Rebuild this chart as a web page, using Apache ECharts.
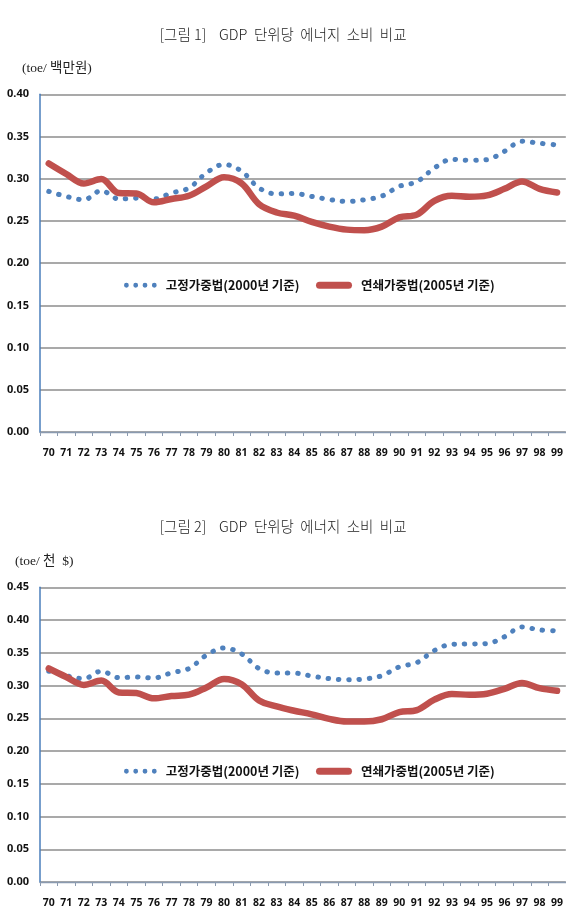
<!DOCTYPE html>
<html>
<head>
<meta charset="utf-8">
<script src="https://cdn.jsdelivr.net/npm/echarts@6/dist/echarts.min.js"></script>
<style>
html,body{margin:0;padding:0;background:#fff;}
#c{width:566px;height:909px;}
</style>
</head>
<body>
<div id="c"></div>
<script>
const years = ['70','71','72','73','74','75','76','77','78','79','80','81','82','83','84','85','86','87','88','89','90','91','92','93','94','95','96','97','98','99'];

// 그림 1 (toe/백만원)
const fixed1 = [0.285,0.279,0.275,0.286,0.276,0.277,0.276,0.283,0.289,0.307,0.317,0.309,0.289,0.282,0.2825,0.279,0.2754,0.273,0.275,0.2794,0.291,0.2964,0.3127,0.323,0.3218,0.3226,0.3325,0.3444,0.342,0.340];
const chain1 = [0.318,0.3056,0.2944,0.2996,0.283,0.2825,0.272,0.276,0.2798,0.291,0.3016,0.2944,0.2698,0.260,0.2562,0.2488,0.2433,0.2397,0.239,0.2433,0.2543,0.2575,0.2738,0.2798,0.2786,0.2802,0.288,0.2968,0.288,0.2837];

// 그림 2 (toe/천 $)
const fixed2 = [0.322,0.315,0.3105,0.322,0.312,0.313,0.3115,0.3195,0.326,0.3465,0.3575,0.3485,0.326,0.319,0.319,0.3145,0.3105,0.309,0.310,0.315,0.3285,0.335,0.3535,0.363,0.3635,0.364,0.3745,0.3895,0.385,0.3835];
const chain2 = [0.326,0.313,0.301,0.3075,0.2895,0.2885,0.2805,0.284,0.286,0.297,0.310,0.302,0.277,0.268,0.2615,0.256,0.249,0.245,0.245,0.2485,0.2595,0.2625,0.2785,0.287,0.286,0.2875,0.295,0.304,0.296,0.292];

const yTicks1 = {min:0, max:0.40, interval:0.05};
const yTicks2 = {min:0, max:0.45, interval:0.05};

const nameFixed = '고정가중법(2000년 기준)';
const nameChain = '연쇄가중법(2005년 기준)';

const blueC = '#4f81bd', redC = '#c0504d';
const dotsIcon = 'path://M0,2.4a2.4,2.4 0 1,0 4.8,0a2.4,2.4 0 1,0 -4.8,0Z M9.3,2.4a2.4,2.4 0 1,0 4.8,0a2.4,2.4 0 1,0 -4.8,0Z M18.6,2.4a2.4,2.4 0 1,0 4.8,0a2.4,2.4 0 1,0 -4.8,0Z M27.9,2.4a2.4,2.4 0 1,0 4.8,0a2.4,2.4 0 1,0 -4.8,0Z';
const barIcon = 'path://M3.5,0L32.5,0A3.5,3.5 0 0 1 32.5,7L3.5,7A3.5,3.5 0 0 1 3.5,0Z';

const legText = {fontSize:12.5, fontWeight:'bold', color:'#111', fontFamily:'"Noto Sans CJK KR", sans-serif', padding:[0,0,0,4]};
function legends(cy){
  return [
    {data:[{name:nameFixed, icon:dotsIcon, itemStyle:{color:blueC}}], left:124, top:cy-8, padding:0, itemWidth:32.7, itemHeight:4.8, selectedMode:false, textStyle:legText},
    {data:[{name:nameChain, icon:barIcon, itemStyle:{color:redC}}], left:316, top:cy-8, padding:0, itemWidth:36, itemHeight:7, selectedMode:false, textStyle:legText}
  ];
}

const titleStyle = {fontSize:14.5, fontWeight:300, color:'#222', fontFamily:'"Noto Sans CJK KR", sans-serif'};
const unitStyle = {fontSize:13.5, fontWeight:'normal', color:'#222', fontFamily:'"Liberation Serif", "Noto Sans CJK KR", serif'};

function xAxis(gi){
  return {
    type:'category', gridIndex:gi, data:years, boundaryGap:true,
    axisLine:{lineStyle:{color:'#8a9ab0', width:1.3}},
    axisTick:{show:true, length:4, inside:false, lineStyle:{color:'#8a9ab0'}},
    axisLabel:{interval:0, fontSize:10.5, fontWeight:'bold', color:'#111', margin:16, fontFamily:'"Noto Sans", sans-serif'},
    splitLine:{show:false}
  };
}
function yAxis(gi, t){
  return {
    type:'value', gridIndex:gi, min:t.min, max:t.max, interval:t.interval,
    axisLine:{show:true, lineStyle:{color:'#4a7ebb', width:1.5}},
    axisTick:{show:false},
    axisLabel:{formatter:v=>v.toFixed(2), fontSize:11, fontWeight:'bold', color:'#111', margin:11, fontFamily:'"Noto Sans", sans-serif'},
    splitLine:{lineStyle:{color:'#8c8c8c', width:1.5}}
  };
}
function blue(data, gi){
  return {name:nameFixed, type:'line', xAxisIndex:gi, yAxisIndex:gi, data:data, smooth:0.35, symbol:'none', showSymbol:false,
    itemStyle:{color:blueC}, lineStyle:{color:blueC, width:5, type:[0.5,9.8], cap:'round'}, z:2, animation:false};
}
function red(data, gi){
  return {name:nameChain, type:'line', xAxisIndex:gi, yAxisIndex:gi, data:data, smooth:0.35, symbol:'none', showSymbol:false,
    itemStyle:{color:redC}, lineStyle:{color:redC, width:6.5, cap:'round', join:'round'}, z:3, animation:false};
}

const chart = echarts.init(document.getElementById('c'), null, {renderer:'canvas'});
chart.setOption({
  animation:false,
  backgroundColor:'#fff',
  title:[
    {text:'[그림 1]    GDP  단위당  에너지  소비  비교', left:'center', top:27, padding:0, textStyle:titleStyle},
    {text:'(toe/ 백만원)', left:22, top:62, padding:0, textStyle:unitStyle},
    {text:'[그림 2]    GDP  단위당  에너지  소비  비교', left:'center', top:519, padding:0, textStyle:titleStyle},
    {text:'(toe/ 천  $)', left:15, top:555, padding:0, textStyle:unitStyle}
  ],
  legend:[...legends(287), ...legends(773)],
  grid:[
    {left:40, top:94.3, width:529.5, height:337.7},
    {left:40, top:587.3, width:529.5, height:299.7}
  ],
  xAxis:[xAxis(0), xAxis(1)],
  yAxis:[yAxis(0, yTicks1), yAxis(1, yTicks2)],
  series:[blue(fixed1,0), red(chain1,0), blue(fixed2,1), red(chain2,1)]
});
</script>
</body>
</html>
